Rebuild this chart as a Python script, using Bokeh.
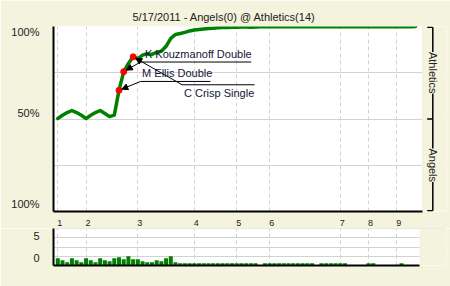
import math
import numpy as np
from bokeh.plotting import figure
from bokeh.models import FixedTicker, BoxAnnotation, Range1d, Arrow, NormalHead, Label, Title
from bokeh.layouts import column
from bokeh.embed import file_html
from bokeh.resources import INLINE
from bokeh.core.properties import value

# ---- game data -------------------------------------------------------------
title_text = "5/17/2011 - Angels(0) @ Athletics(14)"
home_team = "Athletics"
away_team = "Angels"

inning_labels = ["1", "2", "3", "4", "5", "6", "7", "8", "9"]
inning_start_pa = [0, 6, 17, 29, 38, 45, 60, 66, 72]

# Athletics win expectancy after each plate appearance
home_win_prob = [
    0.503, 0.520, 0.535, 0.546, 0.535, 0.520, 0.503, 0.520, 0.535, 0.546,
    0.530, 0.513, 0.521, 0.655, 0.756, 0.800, 0.836, 0.826, 0.845, 0.853,
    0.849, 0.861, 0.866, 0.893, 0.936, 0.957, 0.962, 0.968, 0.976, 0.981,
    0.984, 0.987, 0.989, 0.991, 0.993, 0.994, 0.995, 0.996, 0.996, 0.997,
    0.997, 0.996, 0.997, 0.998, 0.998, 0.998, 0.998, 0.998, 0.998, 0.999,
    0.999, 0.999, 0.999, 0.999, 0.999, 0.999, 0.999, 0.999, 0.999, 0.999,
    0.999, 0.999, 0.999, 0.999, 0.999, 0.999, 0.999, 0.999, 0.999, 0.999,
    0.999, 0.999, 0.999, 0.999, 0.999, 0.999, 1.000,
]

# leverage of each plate appearance (lower panel units)
leverage = [
    0.79, 0.58, 0.36, 0.79, 0.58, 0.36, 0.79, 0.58, 0.36, 0.79,
    0.58, 0.47, 0.79, 0.90, 0.68, 1.01, 0.68, 0.68, 0.47, 0.36,
    0.36, 0.58, 0.47, 0.79, 1.01, 0.36, 0.25, 0.25, 0.25, 0.25,
    0.25, 0.25, 0.25, 0.25, 0.25, 0.25, 0.25, 0.25, 0.25, 0.25,
    0.25, 0.25, 0.25, 0.00, 0.25, 0.25, 0.25, 0.25, 0.25, 0.25,
    0.25, 0.25, 0.25, 0.25, 0.25, 0.00, 0.25, 0.25, 0.25, 0.25,
    0.25, 0.25, 0.00, 0.00, 0.00, 0.00, 0.25, 0.25, 0.00, 0.00,
    0.00, 0.00, 0.00, 0.25, 0.00, 0.00, 0.00,
]

# highlighted plays
event_labels = ["M Ellis Double", "K Kouzmanoff Double", "C Crisp Single"]
event_pa = [13, 14, 16]

# ---- layout / style --------------------------------------------------------
CREAM = "#f4f3dd"
GREEN = "#008000"
GRID = "#d2d2d2"
FONT = "Liberation Sans"

x_lo, x_hi = -0.913, 82.56          # shared x range (plate appearances)
plot_right = 77.36                  # end of the white area, upper panel
lower_right = 76.83                 # end of the white area, lower panel
px_per_pa = 4.708
px_per_unit = 187.0

pa_idx = list(range(len(home_win_prob)))
bar_idx = list(range(len(leverage)))

# callout placement: (text x, text y, rule y, rule x0, rule x1, leader x, leader y)
callouts = [
    (17.9, 0.747, 0.703, 17.57, 32.43, 17.57, 0.703),
    (18.5, 0.849, 0.808, 17.57, 41.08, 17.57, 0.808),
    (26.8, 0.641, 0.685, 26.40, 41.80, 26.40, 0.685),
]


def style_axes(p, size):
    for ax in (p.xaxis, p.yaxis):
        ax.axis_line_color = "black"
        ax.axis_line_width = 2
        ax.major_tick_line_color = None
        ax.minor_tick_line_color = None
        ax.major_label_text_font = FONT
        ax.major_label_text_font_size = size
        ax.major_label_text_color = "#222222"


# ---- main win-probability panel --------------------------------------------
p1 = figure(width=450, height=228, x_range=Range1d(x_lo, x_hi), y_range=Range1d(0, 1),
            output_backend="svg", toolbar_location=None, title=None,
            min_border_left=53, min_border_right=4, min_border_top=26, min_border_bottom=15,
            background_fill_color="white", border_fill_color=CREAM, outline_line_color=None)

p1.add_layout(Title(text=title_text, align="left", offset=79, standoff=8,
                    text_font=FONT, text_font_size="11px", text_font_style="normal",
                    text_color="#222222"), "above")

style_axes(p1, "11px")
label_shift = 0.42
p1.xaxis.ticker = FixedTicker(ticks=[s + label_shift for s in inning_start_pa])
p1.xaxis.major_label_overrides = {s + label_shift: lab for s, lab in zip(inning_start_pa, inning_labels)}
p1.xaxis.bounds = (x_lo, plot_right)
p1.xaxis.major_label_text_font_size = "9px"
p1.xaxis.major_label_standoff = 2
p1.xgrid.ticker = FixedTicker(ticks=inning_start_pa)
p1.xgrid.grid_line_dash = "4 3"
p1.xgrid.grid_line_color = GRID

p1.yaxis.ticker = FixedTicker(ticks=[0.039, 0.534, 0.968])
p1.yaxis.major_label_overrides = {0.039: "100%", 0.534: "50%", 0.968: "100%"}
p1.yaxis.major_label_standoff = 8
p1.ygrid.ticker = FixedTicker(ticks=[0.25, 0.5, 0.75])
p1.ygrid.grid_line_color = GRID

# cream margin to the right of the plotting area
p1.add_layout(BoxAnnotation(left=plot_right, fill_color=CREAM, fill_alpha=1.0,
                            line_color=None, level="underlay"))

p1.line(pa_idx, home_win_prob, line_color=GREEN, line_width=3.5,
        line_join="round", line_cap="round")

ev_y = [home_win_prob[i] for i in event_pa]

# callout rules, texts and leaders
for (tx, ty, ry, rx0, rx1, lx, ly), lab, ex, ey in zip(callouts, event_labels, event_pa, ev_y):
    p1.segment(x0=[rx0], y0=[ry], x1=[rx1], y1=[ry], line_color="black", line_width=1)
    p1.text(x=[tx], y=[ty], text=[lab], text_font=value(FONT), text_font_size="11px",
            text_baseline="middle", text_align="left", text_color="#14143a")
    dxp = (ex - lx) * px_per_pa
    dyp = (ey - ly) * px_per_unit
    dist = math.hypot(dxp, dyp)
    t = (dist - 3.0) / dist
    p1.add_layout(Arrow(end=NormalHead(size=6, fill_color="black", line_color="black"),
                        x_start=lx, y_start=ly,
                        x_end=lx + (ex - lx) * t, y_end=ly + (ey - ly) * t,
                        line_color="black", line_width=1))

p1.scatter(event_pa, ev_y, size=6, fill_color="#ff0000", line_color="#ff0000")

# team brackets on the right
bx, btick = 79.65, 78.46
p1.segment(x0=[bx], y0=[0.004], x1=[bx], y1=[0.996], line_color="black", line_width=1.5)
p1.segment(x0=[btick] * 3, y0=[0.996, 0.5, 0.004], x1=[bx] * 3, y1=[0.996, 0.5, 0.004],
           line_color="black", line_width=1.5)
for name, yc in ((home_team, 0.75), (away_team, 0.25)):
    p1.add_layout(Label(x=bx, y=yc, text=name, angle=-math.pi / 2, text_align="center",
                        text_baseline="middle", text_font=FONT, text_font_size="11px",
                        text_color="#222222", background_fill_color=CREAM,
                        background_fill_alpha=1.0))

# ---- lower leverage panel --------------------------------------------------
p2 = figure(width=450, height=58, x_range=Range1d(x_lo, x_hi), y_range=Range1d(0, 4.02),
            output_backend="svg", toolbar_location=None,
            min_border_left=53, min_border_right=4, min_border_top=0, min_border_bottom=21,
            background_fill_color="white", border_fill_color=CREAM, outline_line_color=None)

p2.xgrid.ticker = FixedTicker(ticks=inning_start_pa)
p2.xgrid.grid_line_dash = "4 3"
p2.xgrid.grid_line_color = GRID
p2.ygrid.ticker = FixedTicker(ticks=[1, 2, 3, 4])
p2.ygrid.grid_line_color = GRID

p2.add_layout(BoxAnnotation(left=lower_right, fill_color=CREAM, fill_alpha=1.0,
                            line_color=None, level="underlay"))

p2.vbar(x=bar_idx, top=leverage, width=0.85, fill_color=GREEN, line_color=None)

style_axes(p2, "11px")
p2.xaxis.ticker = FixedTicker(ticks=[])
p2.xaxis.bounds = (x_lo, lower_right)
p2.yaxis.ticker = FixedTicker(ticks=[0.79, 3.22])
p2.yaxis.major_label_overrides = {0.79: "0", 3.22: "5"}
p2.yaxis.major_label_standoff = 8

layout = column(p1, p2, spacing=0)
open("out.html", "w").write(file_html(layout, INLINE))
